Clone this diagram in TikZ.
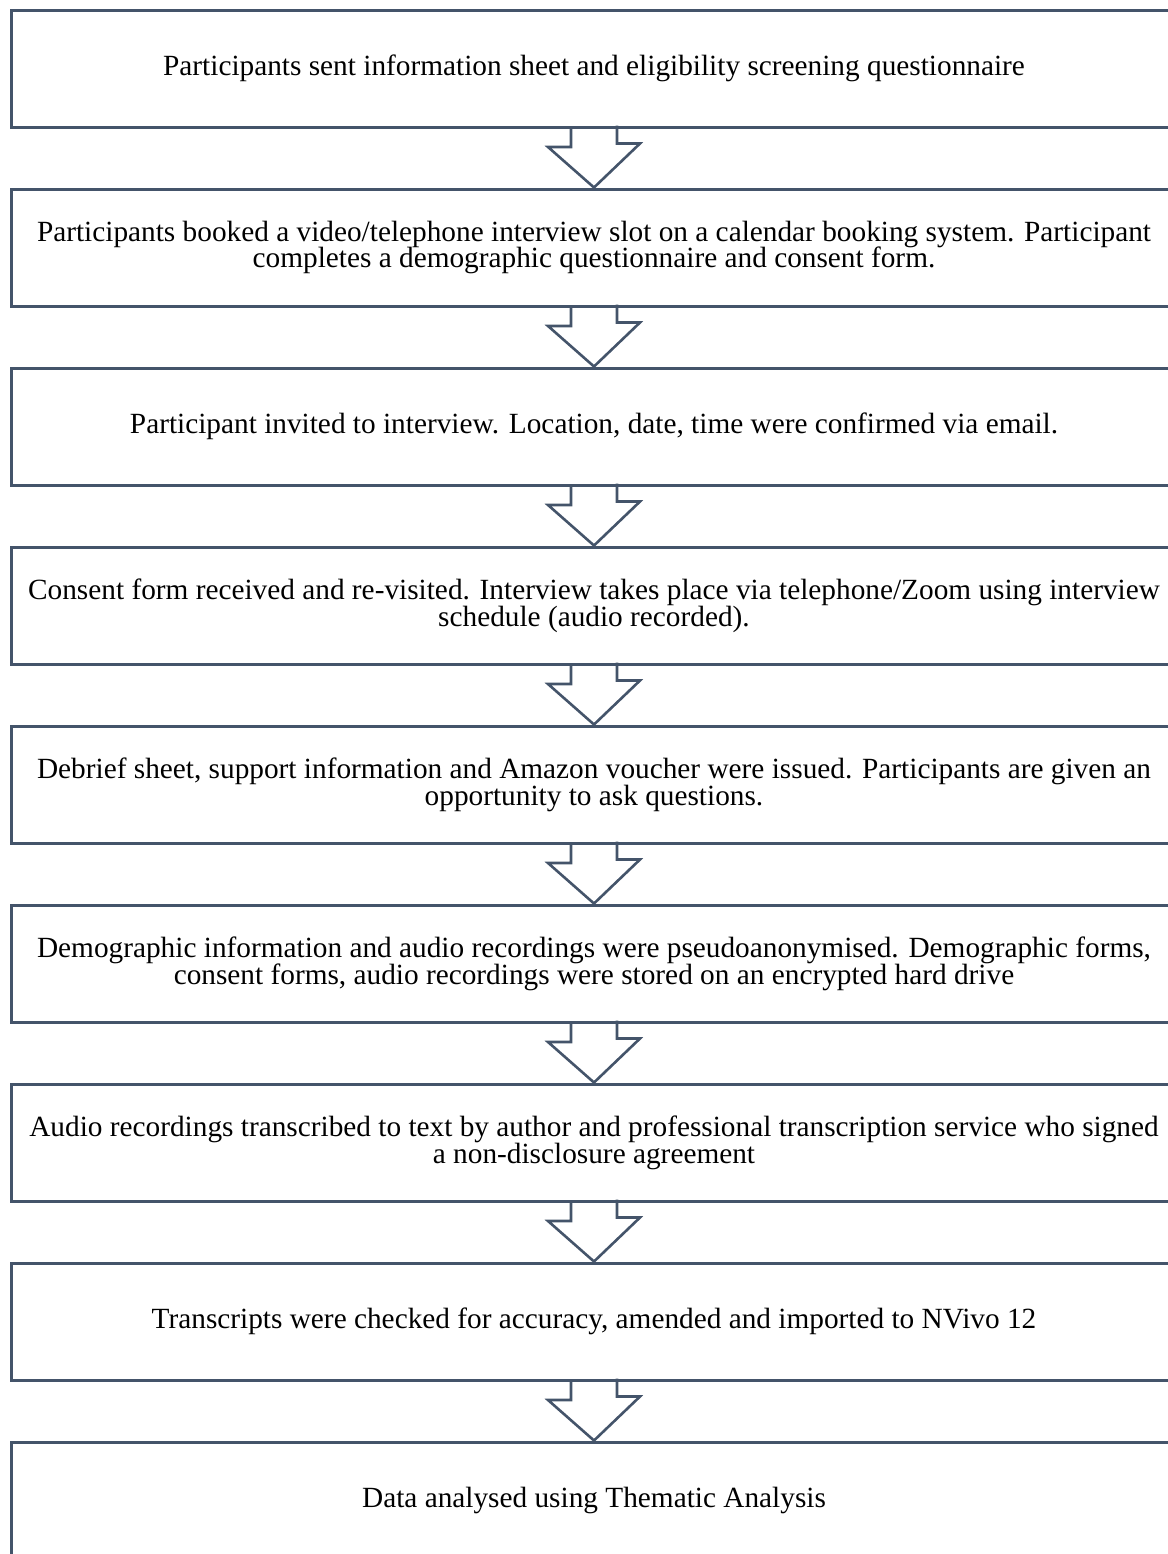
\documentclass[tikz,border=0pt]{standalone}
\usepackage{fontspec}
\setmainfont{Liberation Serif}
\definecolor{slate}{HTML}{44546A}
\newcommand\stepfont{\fontsize{14.65}{13.2}\selectfont\lineskiplimit=-20pt\relax}
\tikzset{
  stepbox/.style={draw=slate, line width=1.5pt, minimum width=583pt, minimum height=58.75pt,
    inner sep=0pt, align=center, font=\stepfont},
  flowarrow/.style={draw=slate, line width=1.3pt, line join=miter}
}
\begin{document}
\begin{tikzpicture}[x=0.5pt,y=-0.5pt]
		\clip (0,0) rectangle (1168,1554);
		\node (sent)     at (594,68.75)   [stepbox] {Participants sent information sheet and eligibility screening questionnaire};
		\node (booked)   at (594,247.75)  [stepbox] {Participants booked a video/telephone interview slot on a calendar booking system. Participant\\completes a demographic questionnaire and consent form.};
		\node (invited)  at (594,426.75)  [stepbox] {Participant invited to interview. Location, date, time were confirmed via email.};
		\node (consent)  at (594,605.75)  [stepbox] {Consent form received and re-visited. Interview takes place via telephone/Zoom using interview\\schedule (audio recorded).};
		\node (debrief)  at (594,784.75)  [stepbox] {Debrief sheet, support information and Amazon voucher were issued. Participants are given an\\opportunity to ask questions.};
		\node (pseudo)   at (594,963.75)  [stepbox] {Demographic information and audio recordings were pseudoanonymised. Demographic forms,\\consent forms, audio recordings were stored on an encrypted hard drive};
		\node (transcr)  at (594,1142.75) [stepbox] {Audio recordings transcribed to text by author and professional transcription service who signed\\a non-disclosure agreement};
		\node (checked)  at (594,1321.75) [stepbox] {Transcripts were checked for accuracy, amended and imported to NVivo 12};
		\node (analysed) at (594,1500.75) [stepbox] {Data analysed using Thematic Analysis};
		%
		% block arrows between the steps
		\foreach \a/\b in {sent/booked, booked/invited, invited/consent, consent/debrief,
		                   debrief/pseudo, pseudo/transcr, transcr/checked, checked/analysed}
		  \draw[flowarrow] ([xshift=-11.5pt]\a.south) -- ++(0,18) -- ++(-23,0) -- (\b.north)
		    -- ++(46,-44) -- ++(-23,0) -- ++(0,-18);
\end{tikzpicture}
\end{document}
